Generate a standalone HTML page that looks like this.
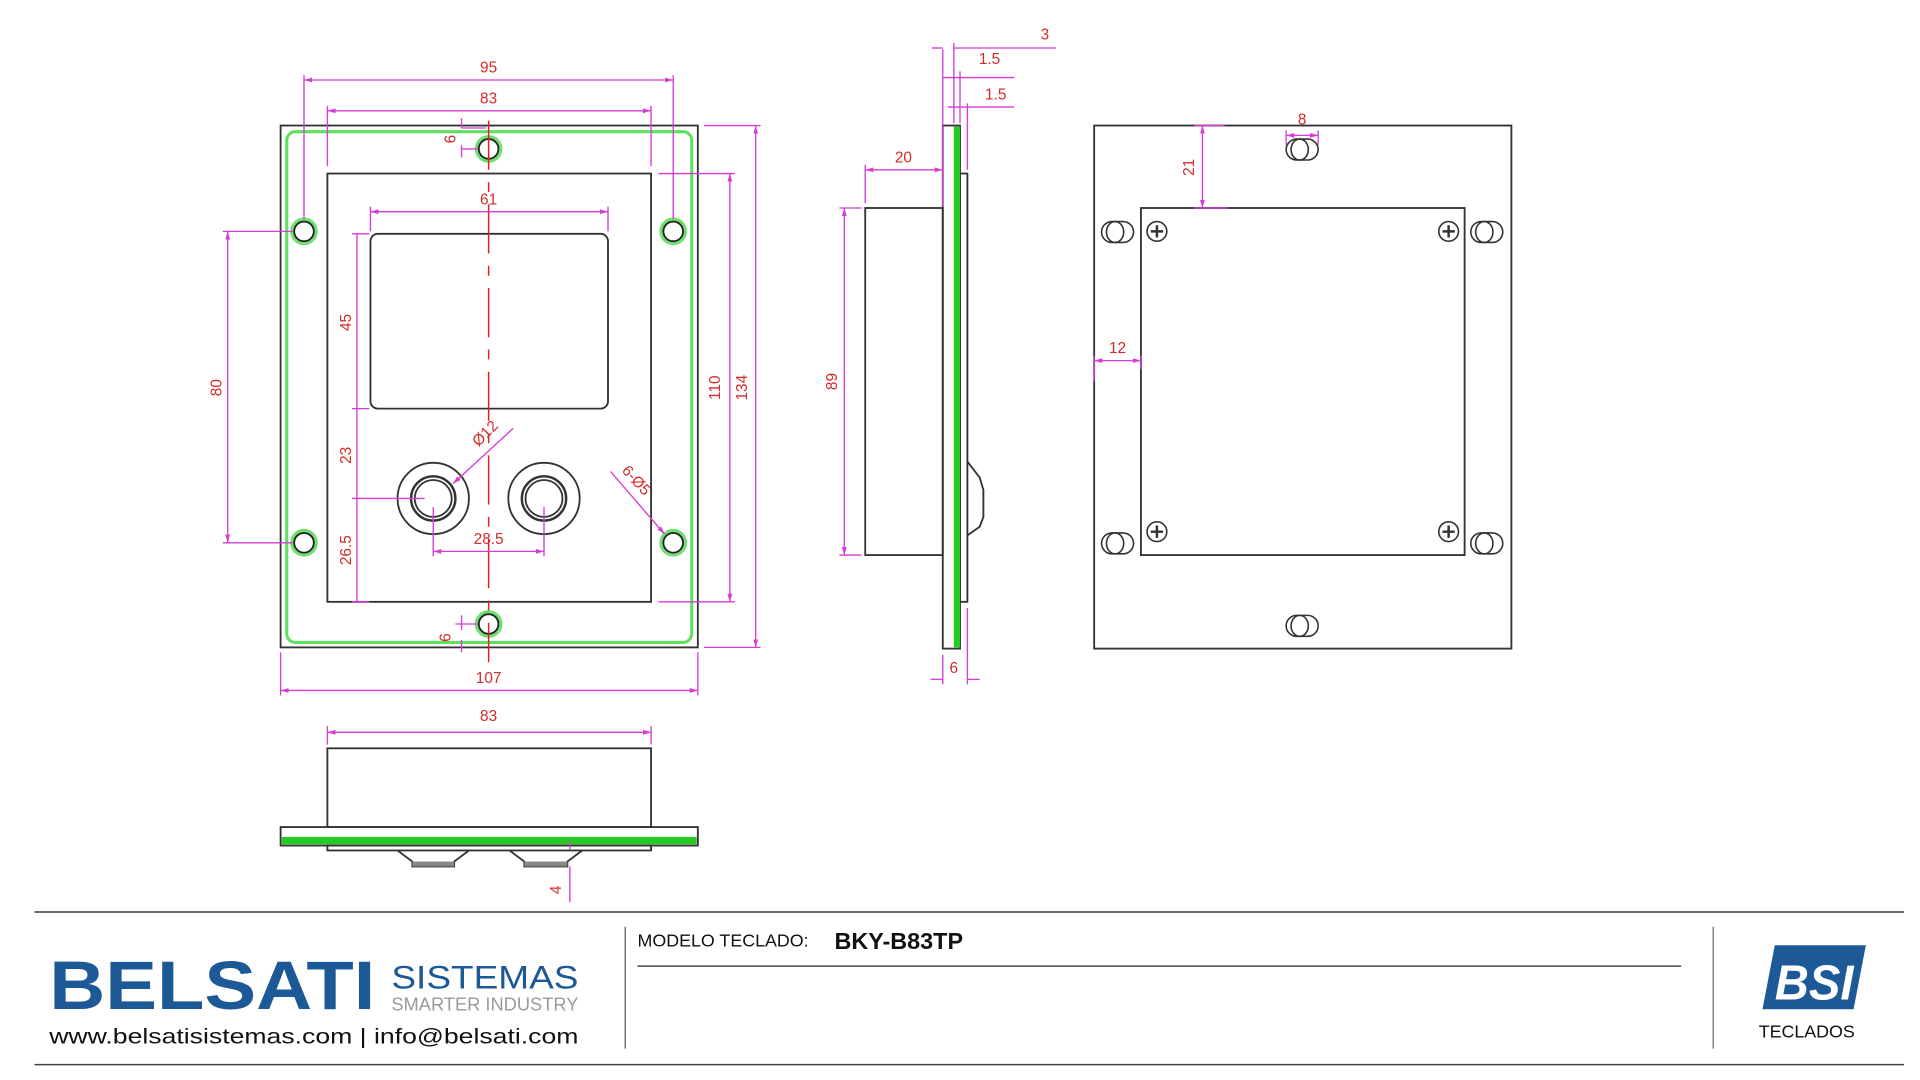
<!DOCTYPE html>
<html><head><meta charset="utf-8"><style>html,body{margin:0;padding:0;background:#fff;}svg{display:block;}</style></head>
<body>
<svg width="1920" height="1080" viewBox="0 0 1560 877.5" xmlns="http://www.w3.org/2000/svg" font-family="Liberation Sans, sans-serif">
<defs>
<marker id="a" viewBox="0 0 10 10" refX="10" refY="5" markerWidth="6" markerHeight="6" orient="auto-start-reverse"><path d="M0,2 L10,5 L0,8z" fill="#d63cd6"/></marker>
</defs>
<g fill="none" stroke="#333" stroke-width="1.5">
<rect x="228" y="102" width="339" height="424"/>
<rect x="233" y="107" width="329" height="415" rx="7" stroke="#5fe05f" stroke-width="2.5"/>
<rect x="266" y="141" width="263" height="348"/>
<rect x="301" y="190" width="193" height="142" rx="6"/>
<g stroke="#6fe06f" stroke-width="2.5"><circle cx="247" cy="188" r="10"/><circle cx="547" cy="188" r="10"/><circle cx="247" cy="441" r="10"/><circle cx="547" cy="441" r="10"/><circle cx="397" cy="121" r="10"/><circle cx="397" cy="507" r="10"/></g>
<g stroke="#222"><circle cx="247" cy="188" r="8"/><circle cx="547" cy="188" r="8"/><circle cx="247" cy="441" r="8"/><circle cx="547" cy="441" r="8"/><circle cx="397" cy="121" r="8"/><circle cx="397" cy="507" r="8"/></g>
<circle cx="352" cy="405" r="29"/><circle cx="352" cy="405" r="18" stroke-width="2"/><circle cx="352" cy="405" r="15"/>
<circle cx="442" cy="405" r="29"/><circle cx="442" cy="405" r="18" stroke-width="2"/><circle cx="442" cy="405" r="15"/>
<rect x="703" y="169" width="63" height="282"/>
<rect x="766" y="102" width="14" height="425"/>
<rect x="780" y="141" width="6" height="348"/>
<path d="M786,375 L796,388 L799,398 L799,420 L796,428 L786,435"/>
<rect x="889" y="102" width="339" height="425"/>
<rect x="927" y="169" width="263" height="282"/>
<rect x="266" y="608" width="263" height="64"/>
<rect x="228" y="672" width="339" height="15"/>
<rect x="266" y="687" width="263" height="4"/>
<path d="M323,691 L335,700 L335,704 L369,704 L369,700 L381,691"/>
<path d="M414,691 L426,700 L426,704 L461,704 L461,700 L473,691"/>
</g>
<rect x="775" y="103" width="5" height="423" fill="#22cc22"/>
<rect x="229" y="680" width="337" height="6" fill="#22cc22"/>
<g fill="#888" stroke="none"><rect x="335" y="700" width="34" height="4"/><rect x="426" y="700" width="35" height="4"/></g>
<g fill="none" stroke="#333" stroke-width="1.3">
<g id="s"><rect x="895" y="180" width="26" height="17" rx="8.5"/><ellipse cx="906" cy="188.5" rx="7" ry="8.5"/></g>
<use href="#s" x="300"/><use href="#s" y="253"/><use href="#s" x="300" y="253"/><use href="#s" x="150" y="-67"/><use href="#s" x="150" y="320"/>
<g id="c"><circle cx="940" cy="188" r="8"/><path d="M940,183v10M935,188h10" stroke-width="2"/></g>
<use href="#c" x="237"/><use href="#c" y="244"/><use href="#c" x="237" y="244"/>
</g>
<line x1="397" y1="98" x2="397" y2="538" stroke="#e02020" stroke-width="1.2" stroke-dasharray="40,10,8,10"/>
<g stroke="#d63cd6" stroke-width="1.1" fill="none">
<line x1="247" y1="65" x2="547" y2="65" marker-start="url(#a)" marker-end="url(#a)"/><line x1="247" y1="61" x2="247" y2="178"/><line x1="547" y1="61" x2="547" y2="178"/>
<line x1="266" y1="90" x2="529" y2="90" marker-start="url(#a)" marker-end="url(#a)"/><line x1="266" y1="86" x2="266" y2="135"/><line x1="529" y1="86" x2="529" y2="135"/>
<line x1="301" y1="172" x2="494" y2="172" marker-start="url(#a)" marker-end="url(#a)"/><line x1="301" y1="168" x2="301" y2="188"/><line x1="494" y1="168" x2="494" y2="188"/>
<line x1="228" y1="561" x2="567" y2="561" marker-start="url(#a)" marker-end="url(#a)"/><line x1="228" y1="530" x2="228" y2="565"/><line x1="567" y1="530" x2="567" y2="565"/>
<line x1="185" y1="188" x2="185" y2="441" marker-start="url(#a)" marker-end="url(#a)"/><line x1="181" y1="188" x2="238" y2="188"/><line x1="181" y1="441" x2="238" y2="441"/>
<line x1="593" y1="141" x2="593" y2="489" marker-start="url(#a)" marker-end="url(#a)"/><line x1="535" y1="141" x2="597" y2="141"/><line x1="535" y1="489" x2="597" y2="489"/>
<line x1="614" y1="102" x2="614" y2="526" marker-start="url(#a)" marker-end="url(#a)"/><line x1="572" y1="102" x2="618" y2="102"/><line x1="572" y1="526" x2="618" y2="526"/>
<line x1="290" y1="190" x2="290" y2="489"/><line x1="286" y1="190" x2="300" y2="190"/><line x1="286" y1="332" x2="300" y2="332"/><line x1="286" y1="405" x2="345" y2="405"/><line x1="286" y1="489" x2="300" y2="489"/>
<line x1="352" y1="448" x2="442" y2="448" marker-start="url(#a)" marker-end="url(#a)"/><line x1="352" y1="412" x2="352" y2="452"/><line x1="442" y1="412" x2="442" y2="452"/>
<line x1="417" y1="348" x2="368" y2="393" marker-end="url(#a)"/>
<line x1="496" y1="383" x2="540" y2="434" marker-end="url(#a)"/>
<line x1="375" y1="96" x2="375" y2="104"/><line x1="375" y1="121" x2="388" y2="121"/><line x1="375" y1="118" x2="375" y2="128"/><line x1="375" y1="104" x2="395" y2="104"/>
<line x1="370" y1="507" x2="388" y2="507"/><line x1="375" y1="500" x2="375" y2="512"/><line x1="375" y1="520" x2="375" y2="530"/>
<line x1="703" y1="138" x2="766" y2="138" marker-start="url(#a)" marker-end="url(#a)"/><line x1="703" y1="134" x2="703" y2="165"/><line x1="766" y1="40" x2="766" y2="168"/>
<line x1="686" y1="169" x2="686" y2="451" marker-start="url(#a)" marker-end="url(#a)"/><line x1="682" y1="169" x2="700" y2="169"/><line x1="682" y1="451" x2="700" y2="451"/>
<line x1="757" y1="39" x2="766" y2="39"/><line x1="775" y1="39" x2="858" y2="39"/><line x1="775" y1="35" x2="775" y2="100"/>
<line x1="766" y1="63" x2="824" y2="63"/><line x1="780" y1="58" x2="780" y2="100"/>
<line x1="770" y1="87" x2="824" y2="87"/><line x1="786" y1="84" x2="786" y2="138"/>
<line x1="766" y1="532" x2="766" y2="556"/><line x1="786" y1="494" x2="786" y2="556"/><line x1="756" y1="552" x2="766" y2="552"/><line x1="786" y1="552" x2="796" y2="552"/>
<line x1="1045" y1="110" x2="1071" y2="110" marker-start="url(#a)" marker-end="url(#a)"/><line x1="1045" y1="106" x2="1045" y2="118"/><line x1="1071" y1="106" x2="1071" y2="118"/>
<line x1="977" y1="102" x2="977" y2="169" marker-start="url(#a)" marker-end="url(#a)"/><line x1="970" y1="102" x2="995" y2="102"/><line x1="970" y1="169" x2="998" y2="169"/>
<line x1="889" y1="293" x2="927" y2="293" marker-start="url(#a)" marker-end="url(#a)"/><line x1="889" y1="289" x2="889" y2="310"/><line x1="927" y1="289" x2="927" y2="300"/>
<line x1="266" y1="595" x2="529" y2="595" marker-start="url(#a)" marker-end="url(#a)"/><line x1="266" y1="590" x2="266" y2="605"/><line x1="529" y1="590" x2="529" y2="605"/>
<line x1="463" y1="683" x2="463" y2="690"/><line x1="463" y1="704" x2="463" y2="733"/>
</g>
<g fill="#d42a2a" font-size="12.5" text-anchor="middle">
<text x="397" y="59">95</text><text x="397" y="84">83</text><text x="397" y="166">61</text><text x="397" y="555">107</text>
<text x="397" y="442">28.5</text><text x="397" y="586">83</text>
<text transform="translate(180,315) rotate(-90)">80</text>
<text transform="translate(585,315) rotate(-90)">110</text>
<text transform="translate(607,315) rotate(-90)">134</text>
<text transform="translate(285,262) rotate(-90)">45</text>
<text transform="translate(285,370) rotate(-90)">23</text>
<text transform="translate(285,447) rotate(-90)">26.5</text>
<text transform="translate(370,113) rotate(-90)">6</text>
<text transform="translate(366,518) rotate(-90)">6</text>
<text transform="translate(397,355) rotate(-45)">Ø12</text>
<text transform="translate(514,393) rotate(48)">6-Ø5</text>
<text x="734" y="132">20</text>
<text transform="translate(680,310) rotate(-90)">89</text>
<text x="849" y="32">3</text><text x="804" y="52">1.5</text><text x="809" y="81">1.5</text>
<text x="775" y="547">6</text>
<text x="1058" y="101">8</text>
<text transform="translate(970,136) rotate(-90)">21</text>
<text x="908" y="287">12</text>
<text transform="translate(456,723) rotate(-90)">4</text>
</g>
<line x1="28" y1="741" x2="1547" y2="741" stroke="#555" stroke-width="1.5"/>
<line x1="28" y1="865" x2="1547" y2="865" stroke="#444" stroke-width="1.3"/>
<line x1="508" y1="753" x2="508" y2="852" stroke="#555" stroke-width="1"/>
<line x1="1392" y1="753" x2="1392" y2="852" stroke="#666" stroke-width="1"/>
<line x1="518" y1="785" x2="1366" y2="785" stroke="#444" stroke-width="1.2"/>
<text x="518" y="769" font-size="14.5" fill="#111">MODELO TECLADO:</text>
<text x="678" y="771" font-size="19" font-weight="bold" fill="#111">BKY-B83TP</text>
<text x="40" y="820" font-size="56" font-weight="bold" fill="#1c5996" textLength="265" lengthAdjust="spacingAndGlyphs">BELSATI</text>
<text x="318" y="803" font-size="26" fill="#1c5996" textLength="152" lengthAdjust="spacingAndGlyphs">SISTEMAS</text>
<text x="318" y="821" font-size="15" fill="#9a9a9a" textLength="152" lengthAdjust="spacingAndGlyphs">SMARTER INDUSTRY</text>
<text x="40" y="848" font-size="17" fill="#111" textLength="430" lengthAdjust="spacingAndGlyphs">www.belsatisistemas.com   |   info@belsati.com</text>
<path d="M1442,768 L1516,768 L1506,820 L1432,820 Z" fill="#1c5996"/>
<text x="1474" y="812" font-size="40" font-weight="bold" font-style="italic" fill="#fff" text-anchor="middle" textLength="64" lengthAdjust="spacingAndGlyphs">BSI</text>
<text x="1468" y="843" font-size="14.5" fill="#111" text-anchor="middle">TECLADOS</text>
</svg>
</body></html>
